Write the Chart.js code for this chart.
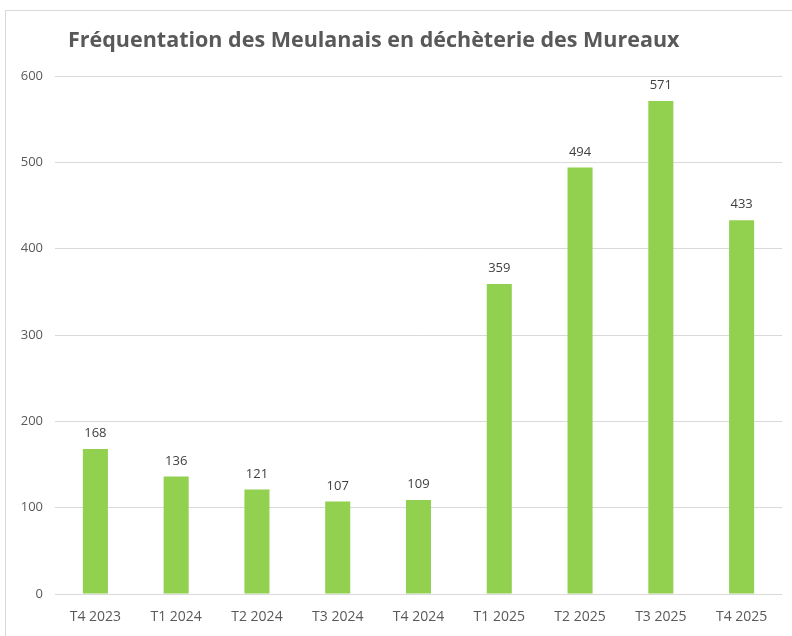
<!DOCTYPE html>
<html>
<head>
<meta charset="utf-8">
<script src="https://cdn.jsdelivr.net/npm/chart.js@4"></script>
<style>
  html, body { margin: 0; padding: 0; background: #fff; }
  #wrap { width: 792px; height: 636px; position: relative; }
</style>
</head>
<body>
<div id="wrap"><canvas id="chart"></canvas></div>
<script>
const titleText = 'Fréquentation des Meulanais en déchèterie des Mureaux';
const quarters = ['T4 2023', 'T1 2024', 'T2 2024', 'T3 2024', 'T4 2024', 'T1 2025', 'T2 2025', 'T3 2025', 'T4 2025'];
const visits = [168, 136, 121, 107, 109, 359, 494, 571, 433];
const yTicks = [0, 100, 200, 300, 400, 500, 600];

const FONT = '"Open Sans", sans-serif';

// frame + title, drawn by hand so the title can sit off-centre like the original
const framePlugin = {
  id: 'frame',
  beforeDraw(chart) {
    const ctx = chart.ctx;
    ctx.save();
    ctx.strokeStyle = '#d9d9d9';
    ctx.lineWidth = 1;
    ctx.beginPath();
    ctx.moveTo(5.5, 636);
    ctx.lineTo(5.5, 10.5);
    ctx.lineTo(792, 10.5);
    ctx.stroke();
    ctx.fillStyle = '#595959';
    ctx.font = 'bold 21.5px ' + FONT;
    ctx.textBaseline = 'alphabetic';
    ctx.textAlign = 'left';
    ctx.fillText(titleText, 68, 47);
    ctx.restore();
  }
};

// value labels above the bars
const valueLabels = {
  id: 'valueLabels',
  afterDatasetsDraw(chart) {
    const ctx = chart.ctx;
    const meta = chart.getDatasetMeta(0);
    ctx.save();
    ctx.fillStyle = '#404040';
    ctx.font = '13px ' + FONT;
    ctx.textAlign = 'center';
    ctx.textBaseline = 'bottom';
    meta.data.forEach((bar, i) => {
      ctx.fillText(String(visits[i]), bar.x, bar.y - 9);
    });
    ctx.restore();
  }
};

const ctx = document.getElementById('chart').getContext('2d');
new Chart(ctx, {
  type: 'bar',
  data: {
    labels: quarters,
    datasets: [{
      data: visits,
      backgroundColor: '#92d050',
      categoryPercentage: 1,
      barPercentage: 0.31
    }]
  },
  options: {
    responsive: true,
    maintainAspectRatio: false,
    animation: false,
    layout: { padding: { top: 76, right: 10, left: 0, bottom: 0 } },
    scales: {
      x: {
        grid: { display: false },
        border: { display: false },
        ticks: { color: '#595959', font: { family: FONT, size: 14 }, padding: 7, maxRotation: 0 },
        afterFit: (scale) => { scale.height = 42; }
      },
      y: {
        min: 0,
        max: 600,
        afterBuildTicks: (scale) => { scale.ticks = yTicks.map(v => ({ value: v })); },
        grid: { color: '#d9d9d9', drawTicks: false },
        border: { display: false },
        ticks: { color: '#595959', font: { family: FONT, size: 13 }, padding: 12 },
        afterFit: (scale) => { scale.width = 55; }
      }
    },
    plugins: {
      legend: { display: false },
      tooltip: { enabled: false }
    }
  },
  plugins: [framePlugin, valueLabels]
});
</script>
</body>
</html>
